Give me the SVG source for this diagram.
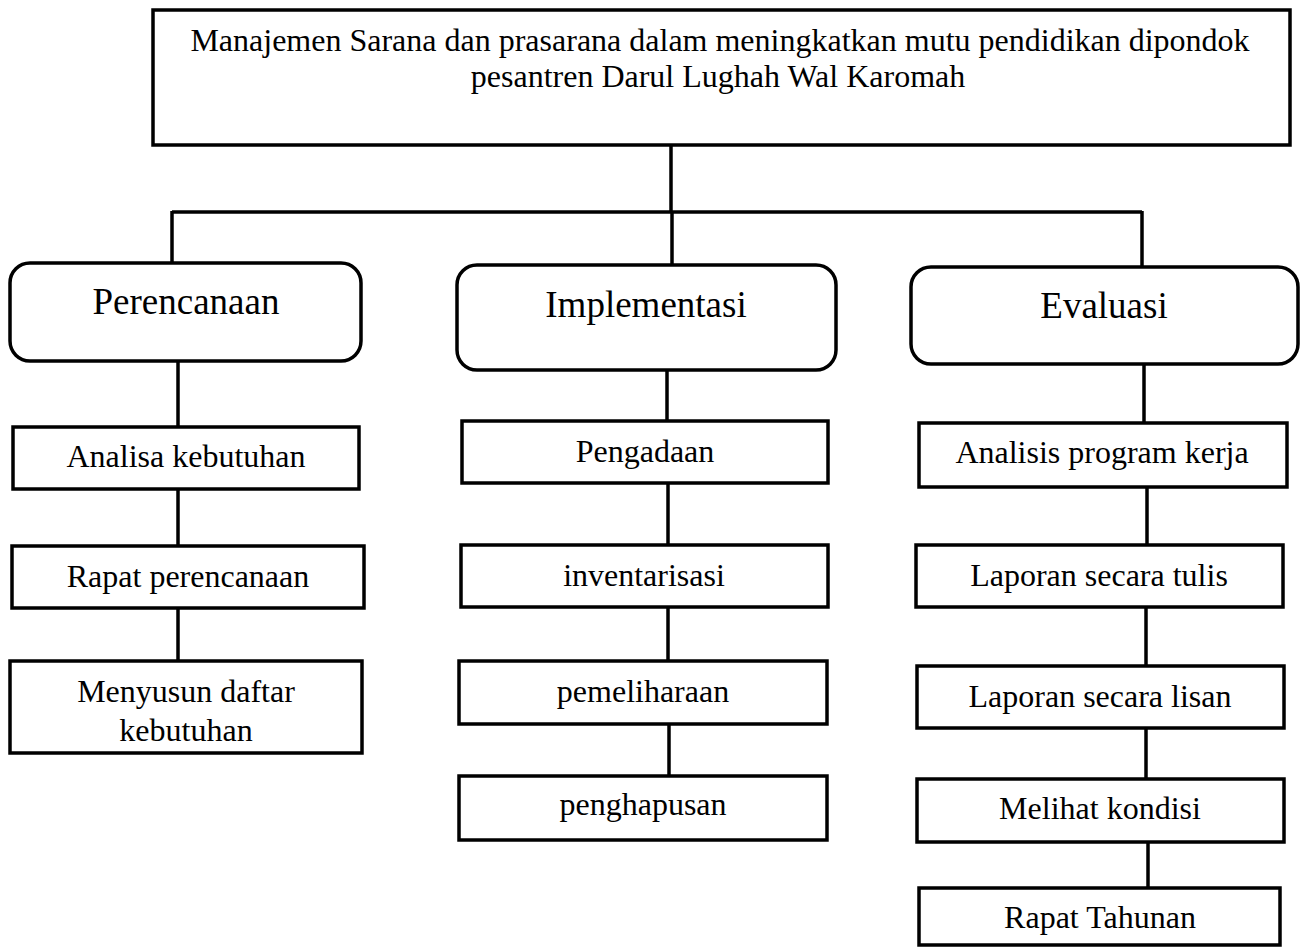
<svg xmlns="http://www.w3.org/2000/svg" width="1301" height="950" viewBox="0 0 1301 950">
<style>
.box{fill:#fff;stroke:#000;stroke-width:3.5}
.conn{stroke:#000;stroke-width:3.5;fill:none}
.t{font-family:"Liberation Serif","Times New Roman",serif;font-size:32px;fill:#000;text-anchor:middle}
.h{font-family:"Liberation Serif","Times New Roman",serif;font-size:37px;fill:#000;text-anchor:middle}
</style>
<rect width="1301" height="950" fill="#fff"/>
<g id="connectors">
<line class="conn" x1="671" y1="145" x2="671" y2="212"/>
<line class="conn" x1="172" y1="212" x2="1142" y2="212"/>
<line class="conn" x1="172" y1="211" x2="172" y2="263"/>
<line class="conn" x1="672" y1="211" x2="672" y2="265"/>
<line class="conn" x1="1142" y1="211" x2="1142" y2="267"/>
<line class="conn" x1="178" y1="361" x2="178" y2="427"/>
<line class="conn" x1="178" y1="489" x2="178" y2="546"/>
<line class="conn" x1="178" y1="608" x2="178" y2="661"/>
<line class="conn" x1="667" y1="370" x2="667" y2="421"/>
<line class="conn" x1="668" y1="483" x2="668" y2="545"/>
<line class="conn" x1="668" y1="607" x2="668" y2="661"/>
<line class="conn" x1="669" y1="724" x2="669" y2="776"/>
<line class="conn" x1="1144" y1="364" x2="1144" y2="423"/>
<line class="conn" x1="1147" y1="487" x2="1147" y2="545"/>
<line class="conn" x1="1146" y1="607" x2="1146" y2="666"/>
<line class="conn" x1="1146" y1="728" x2="1146" y2="779"/>
<line class="conn" x1="1148" y1="842" x2="1148" y2="888"/>
</g>
<g id="root">
<rect class="box" x="153" y="10" width="1137" height="135"/>
<text class="t" x="720" y="51">Manajemen Sarana dan prasarana dalam meningkatkan mutu pendidikan dipondok</text>
<text class="t" x="718" y="87">pesantren Darul Lughah Wal Karomah</text>
</g>
<g id="perencanaan">
<rect class="box" x="10" y="263" width="351" height="98" rx="20"/>
<text class="h" x="186" y="314">Perencanaan</text>
</g>
<g id="implementasi">
<rect class="box" x="457" y="265" width="379" height="105" rx="20"/>
<text class="h" x="646" y="317">Implementasi</text>
</g>
<g id="evaluasi">
<rect class="box" x="911" y="267" width="387" height="97" rx="20"/>
<text class="h" x="1104" y="318">Evaluasi</text>
</g>
<g id="analisa-kebutuhan">
<rect class="box" x="13" y="427" width="346" height="62"/>
<text class="t" x="186" y="467">Analisa kebutuhan</text>
</g>
<g id="rapat-perencanaan">
<rect class="box" x="12" y="546" width="352" height="62"/>
<text class="t" x="188" y="587">Rapat perencanaan</text>
</g>
<g id="menyusun">
<rect class="box" x="10" y="661" width="352" height="92"/>
<text class="t" x="186" y="702">Menyusun daftar</text>
<text class="t" x="186" y="741">kebutuhan</text>
</g>
<g id="pengadaan">
<rect class="box" x="462" y="421" width="366" height="62"/>
<text class="t" x="645" y="462">Pengadaan</text>
</g>
<g id="inventarisasi">
<rect class="box" x="461" y="545" width="367" height="62"/>
<text class="t" x="644" y="586">inventarisasi</text>
</g>
<g id="pemeliharaan">
<rect class="box" x="459" y="661" width="368" height="63"/>
<text class="t" x="643" y="702">pemeliharaan</text>
</g>
<g id="penghapusan">
<rect class="box" x="459" y="776" width="368" height="64"/>
<text class="t" x="643" y="815">penghapusan</text>
</g>
<g id="analisis-program">
<rect class="box" x="919" y="423" width="368" height="64"/>
<text class="t" x="1102" y="463">Analisis program kerja</text>
</g>
<g id="laporan-tulis">
<rect class="box" x="916" y="545" width="367" height="62"/>
<text class="t" x="1099" y="586">Laporan secara tulis</text>
</g>
<g id="laporan-lisan">
<rect class="box" x="917" y="666" width="367" height="62"/>
<text class="t" x="1100" y="707">Laporan secara lisan</text>
</g>
<g id="melihat-kondisi">
<rect class="box" x="917" y="779" width="367" height="63"/>
<text class="t" x="1100" y="819">Melihat kondisi</text>
</g>
<g id="rapat-tahunan">
<rect class="box" x="919" y="888" width="361" height="57"/>
<text class="t" x="1100" y="928">Rapat Tahunan</text>
</g>
</svg>
